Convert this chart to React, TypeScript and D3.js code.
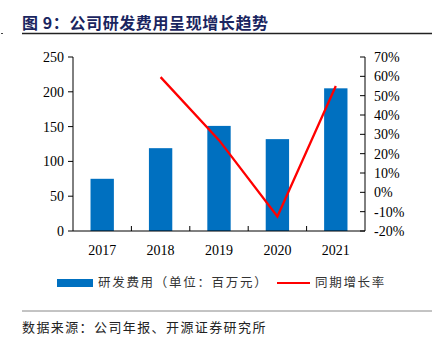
import React from "react";
import * as d3 from "d3";

const years = ["2017", "2018", "2019", "2020", "2021"];
const rdExpense = [75, 119, 151, 132, 205];
const growth: (number | null)[] = [null, 59.6, 27, -12.5, 55];
const leftTicks = [0, 50, 100, 150, 200, 250];
const rightTicks = [-20, -10, 0, 10, 20, 30, 40, 50, 60, 70];

const title = "图 9：公司研发费用呈现增长趋势";
const legendBar = "研发费用（单位：百万元）";
const legendLine = "同期增长率";
const source = "数据来源：公司年报、开源证券研究所";

export default function App() {
  const W = 444, H = 346;
  const left = 73, right = 365, top = 57, bottom = 231;
  const x = d3.scaleBand<string>().domain(years).range([left, right]).paddingInner(0.6).paddingOuter(0.3);
  const xb = d3.scaleBand<string>().domain(years).range([left, right]);
  const yL = d3.scaleLinear().domain([0, 250]).range([bottom, top]);
  const yR = d3.scaleLinear().domain([-20, 70]).range([bottom, top]);
  const pts = years
    .map((yr, i) => ({ yr, v: growth[i] }))
    .filter((d) => d.v !== null) as { yr: string; v: number }[];
  const line = d3
    .line<{ yr: string; v: number }>()
    .x((d) => (xb(d.yr) as number) + xb.bandwidth() / 2)
    .y((d) => yR(d.v));
  const serif = "'Liberation Serif', 'DejaVu Serif', serif";
  const cjk = "'Noto Sans CJK SC', sans-serif";
  return (
    <svg width={W} height={H} style={{ position: "absolute", left: 0, top: 0, background: "#fff" }}>
      <text x={22} y={29} fontFamily={cjk} fontWeight="bold" fontSize={16} fill="#1A2560" letterSpacing={0.6}>
        {title}
      </text>
      <line x1={22} x2={432} y1={33.5} y2={33.5} stroke="#222" strokeWidth={1.3} />
      <line x1={1} x2={3} y1={33.5} y2={33.5} stroke="#444" strokeWidth={1} />

      {years.map((yr, i) => (
        <rect key={yr} x={x(yr)} y={yL(rdExpense[i])} width={x.bandwidth()} height={bottom - yL(rdExpense[i])} fill="#0070C0" />
      ))}

      {/* left axis */}
      <line x1={left} x2={left} y1={top} y2={bottom} stroke="#000" />
      {leftTicks.map((t) => (
        <g key={t}>
          <line x1={left - 5} x2={left} y1={yL(t)} y2={yL(t)} stroke="#000" />
          <text x={64} y={yL(t)} dy="0.35em" textAnchor="end" fontFamily={serif} fontSize={14} fill="#000">
            {t}
          </text>
        </g>
      ))}
      {/* right axis */}
      <line x1={right} x2={right} y1={top} y2={bottom} stroke="#000" />
      {rightTicks.map((t) => (
        <g key={t}>
          <line x1={right - 5} x2={right} y1={yR(t)} y2={yR(t)} stroke="#000" />
          <text x={374} y={yR(t)} dy="0.35em" textAnchor="start" fontFamily={serif} fontSize={14} fill="#000">
            {t}%
          </text>
        </g>
      ))}
      {/* x axis */}
      <line x1={left} x2={right} y1={bottom} y2={bottom} stroke="#000" />
      {years.slice(1).map((yr) => (
        <line key={yr} x1={xb(yr)} x2={xb(yr)} y1={bottom} y2={bottom - 5} stroke="#000" />
      ))}
      {years.map((yr) => (
        <text key={yr} x={(xb(yr) as number) + xb.bandwidth() / 2} y={250} dy="0.35em" textAnchor="middle" fontFamily={serif} fontSize={14} fill="#000">
          {yr}
        </text>
      ))}

      <path d={line(pts) || ""} fill="none" stroke="#FF0000" strokeWidth={2.3} />

      {/* legend */}
      <rect x={57} y={279} width={36} height={8} fill="#0070C0" />
      <text x={98} y={283} dy="0.35em" fontFamily={cjk} fontSize={12.5} letterSpacing={1.7} fill="#333">
        {legendBar}
      </text>
      <line x1={277} x2={310} y1={283} y2={283} stroke="#FF0000" strokeWidth={2} />
      <text x={315} y={283} dy="0.35em" fontFamily={cjk} fontSize={12.5} letterSpacing={1.7} fill="#333">
        {legendLine}
      </text>

      <line x1={22} x2={432} y1={311} y2={311} stroke="#888" strokeWidth={1} />
      <text x={22} y={327} dy="0.35em" fontFamily={cjk} fontSize={13} letterSpacing={1.4} fill="#222">
        {source}
      </text>
    </svg>
  );
}
